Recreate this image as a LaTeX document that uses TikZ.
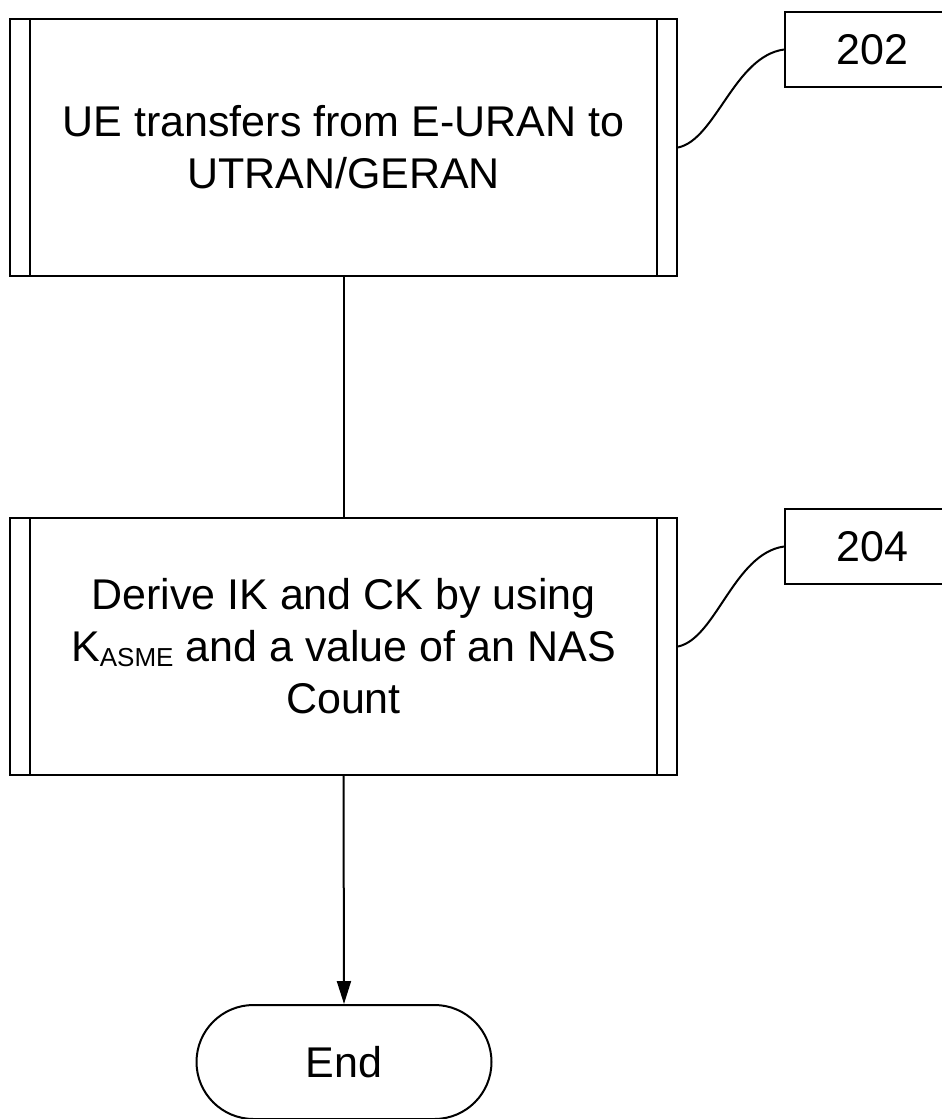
\documentclass[tikz,border=0pt]{standalone}
\usepackage{fontspec}
\setmainfont{Liberation Sans}
\usetikzlibrary{arrows.meta,shapes.misc}

\tikzset{
  line/.style={line width=2pt, black},
  stepbox/.style={draw, line width=2pt, minimum width=667pt, minimum height=257pt,
    inner sep=0pt, align=center, font=\fontsize{43}{52}\selectfont},
  refbox/.style={draw, line width=2pt, minimum width=175pt, minimum height=75pt,
    inner sep=0pt, font=\fontsize{43}{52}\selectfont},
  terminal/.style={draw, line width=2pt, rounded rectangle, minimum width=295pt,
    minimum height=114pt, inner sep=0pt, font=\fontsize{43}{52}\selectfont},
  flow/.style={line, -{Triangle[length=23pt,width=14pt]}},
}

\begin{document}
\begin{tikzpicture}[x=1pt, y=-1pt]
  \useasboundingbox (0,0) rectangle (942,1119);
  \begin{scope}
  \clip (0,0) rectangle (942,1119);

  % process steps
  \node[stepbox] (b1) at (343.5,147.5) {UE transfers from E-URAN to\\UTRAN/GERAN};
  \node[stepbox] (b2) at (343.5,646.5) {Derive IK and CK by using\\K\raisebox{-5pt}{\fontsize{26}{26}\selectfont ASME} and a value of an NAS\\Count};

  % side bars of the predefined-process boxes
  \foreach \b in {b1,b2} {
    \draw[line] ([xshift=21pt]\b.north west) -- ([xshift=21pt]\b.south west);
    \draw[line] ([xshift=-21pt]\b.north east) -- ([xshift=-21pt]\b.south east);
  }

  % reference numerals
  \node[refbox] (l202) at (872.5,49.5) {202};
  \node[refbox] (l204) at (872.5,546.5) {204};

  % terminal
  \node[terminal] (end) at (344,1062) {End};

  % connectors
  \draw[line] (b1.south) -- (b2.north);
  \draw[flow] (b2.south) -- (end.north);

  % leader curves to the reference numerals
  \draw[line] (b1.east) .. controls +(38,-8) and +(-50,7) .. (l202.west);
  \draw[line] (b2.east) .. controls +(38,-8) and +(-50,7) .. (l204.west);
  \end{scope}
\end{tikzpicture}
\end{document}
